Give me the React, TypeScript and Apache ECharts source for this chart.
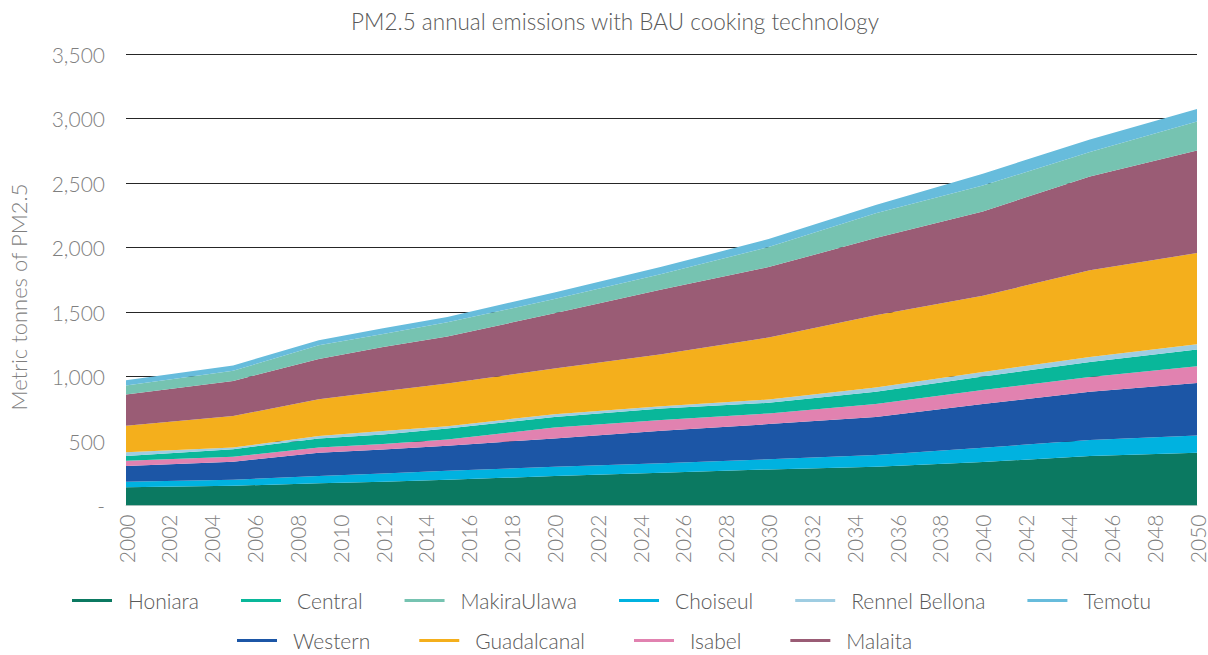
import React, { useEffect, useRef } from "react";
import * as echarts from "echarts";

const years = [2000, 2005, 2009, 2012, 2015, 2020, 2025, 2030, 2035, 2040, 2045, 2050];

const honiara = [141, 153, 172, 184, 200, 228, 254, 280, 300, 337, 383, 409];
const choiseul = [43, 47, 56, 65, 70, 72, 73, 78, 91, 111, 124, 134];
const western = [122, 139, 181, 186, 193, 220, 252, 273, 296, 338, 374, 407];
const isabel = [41, 39, 41, 41, 49, 85, 83, 83, 99, 110, 116, 130];
const central = [36, 59, 70, 75, 85, 82, 90, 82, 95, 104, 116, 129];
const rennelBellona = [29, 13, 18, 26, 18, 21, 18, 26, 34, 35, 39, 41];
const guadalcanal = [206, 243, 286, 309, 331, 354, 403, 480, 559, 591, 671, 707];
const malaita = [242, 273, 311, 343, 364, 428, 502, 546, 599, 654, 727, 795];
const makiraUlawa = [70, 79, 107, 101, 110, 110, 120, 155, 192, 200, 190, 224];
const temotu = [41, 40, 39, 45, 42, 52, 55, 62, 65, 92, 98, 98];

const yTicks = [0, 500, 1000, 1500, 2000, 2500, 3000, 3500];

const seriesDefs = [
  { name: "Honiara", data: honiara, color: "#0b7961" },
  { name: "Choiseul", data: choiseul, color: "#00b2e0" },
  { name: "Western", data: western, color: "#1c56a6" },
  { name: "Isabel", data: isabel, color: "#e182b0" },
  { name: "Central", data: central, color: "#09b79a" },
  { name: "Rennel Bellona", data: rennelBellona, color: "#9fcde2" },
  { name: "Guadalcanal", data: guadalcanal, color: "#f4af1c" },
  { name: "Malaita", data: malaita, color: "#9a5c75" },
  { name: "MakiraUlawa", data: makiraUlawa, color: "#76c3b1" },
  { name: "Temotu", data: temotu, color: "#67bcdc" },
];

const legendRow1 = ["Honiara", "Central", "MakiraUlawa", "Choiseul", "Rennel Bellona", "Temotu"];
const legendRow2 = ["Western", "Guadalcanal", "Isabel", "Malaita"];

const FONT = "Lato, 'Noto Sans', sans-serif";
const colorOf = (n: string) => seriesDefs.find((s) => s.name === n)!.color;

export default function App() {
  const ref = useRef<HTMLDivElement>(null);
  useEffect(() => {
    const chart = echarts.init(ref.current!, null, { renderer: "svg" });
    const legendBase = {
      orient: "horizontal",
      itemWidth: 40,
      itemHeight: 3,
      itemGap: 42,
      icon: "rect",
      padding: 0,
      textStyle: { fontFamily: FONT, fontSize: 21, fontWeight: 300, color: "#595959", padding: [0, 0, 0, 11] },
    };
    chart.setOption({
      animation: false,
      backgroundColor: "#ffffff",
      title: {
        text: "PM2.5 annual emissions with BAU cooking technology",
        left: 610,
        textAlign: "center",
        top: 5,
        textStyle: { fontFamily: FONT, fontSize: 22.5, fontWeight: 300, color: "#595959" },
      },
      graphic: [
        {
          type: "text",
          x: 18,
          y: 297,
          rotation: Math.PI / 2,
          style: {
            text: "Metric tonnes of PM2.5",
            fontFamily: FONT,
            fontSize: 22,
            fontWeight: 300,
            fill: "#7f7f7f",
            align: "center",
            verticalAlign: "middle",
          },
        },
      ],
      legend: [
        {
          ...legendBase,
          left: 72,
          top: 590,
          data: legendRow1.map((n) => ({ name: n, itemStyle: { color: colorOf(n) } })),
        },
        {
          ...legendBase,
          itemGap: 49,
          left: 237,
          top: 630,
          data: legendRow2.map((n) => ({ name: n, itemStyle: { color: colorOf(n) } })),
        },
      ],
      grid: { left: 126, right: 11, top: 54, bottom: 149.5, containLabel: false },
      xAxis: {
        type: "value",
        min: 2000,
        max: 2050,
        interval: 2,
        axisLine: { show: true, lineStyle: { color: "#d9d9d9" } },
        axisTick: { show: false },
        splitLine: { show: false },
        axisLabel: {
          rotate: 90,
          margin: 9,
          fontFamily: FONT,
          fontSize: 21,
          fontWeight: 300,
          color: "#7f7f7f",
          formatter: (v: number) => String(v),
        },
      },
      yAxis: {
        type: "value",
        min: yTicks[0],
        max: yTicks[yTicks.length - 1],
        interval: 500,
        axisLine: { show: false },
        axisTick: { show: false },
        splitLine: { show: true, lineStyle: { color: "#262626", width: 1 } },
        axisLabel: {
          margin: 21,
          fontFamily: FONT,
          fontSize: 21,
          fontWeight: 300,
          color: "#7f7f7f",
          formatter: (v: number) => (v === 0 ? "-" : v.toLocaleString("en-US")),
        },
      },
      series: seriesDefs.map((s) => ({
        name: s.name,
        type: "line",
        stack: "total",
        symbol: "none",
        showSymbol: false,
        color: s.color,
        lineStyle: { width: 0, color: s.color },
        itemStyle: { color: s.color },
        areaStyle: { color: s.color, opacity: 1 },
        encode: { x: 1, y: 0 },
        data: years.map((y, i) => [s.data[i], y]),
      })),
    });
    return () => chart.dispose();
  }, []);
  return (
    <div
      ref={ref}
      style={{ position: "fixed", left: 0, top: 0, width: 1208, height: 655, background: "#fff" }}
    />
  );
}
